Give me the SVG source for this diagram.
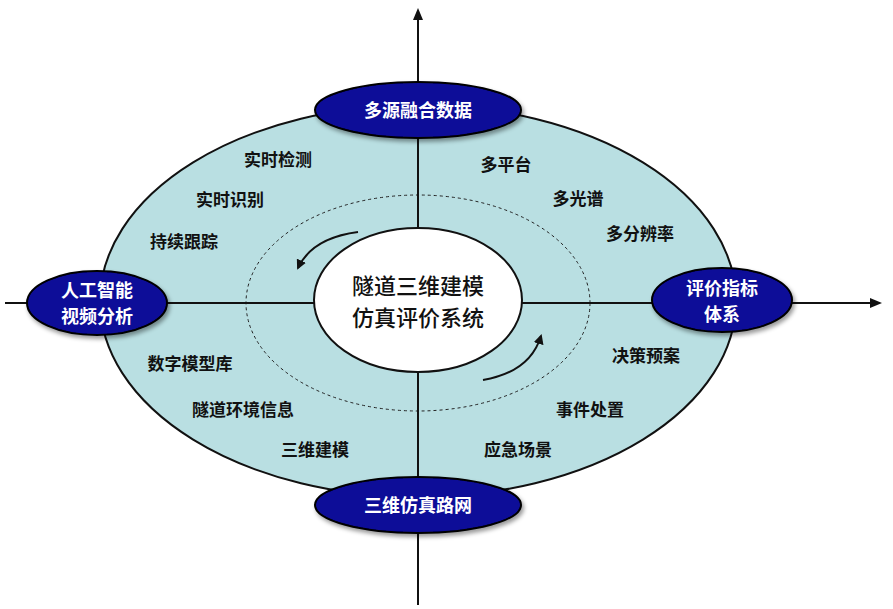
<svg xmlns="http://www.w3.org/2000/svg" width="893" height="609" viewBox="0 0 893 609">
<defs>
<style>
.node{fill:#0b0b98;stroke:#000;stroke-width:2}
.nt{fill:#fff;font-family:"Noto Sans CJK SC",sans-serif;font-size:18px;font-weight:bold;text-anchor:middle}
.lb{fill:#111;font-family:"Noto Sans CJK SC",sans-serif;font-size:17px;font-weight:bold;text-anchor:middle}
.ax{stroke:#111;stroke-width:2;fill:none}
</style>
<marker id="ah" markerWidth="10" markerHeight="10" refX="8" refY="5" orient="auto" markerUnits="userSpaceOnUse"><path d="M0,0 L10,5 L0,10 z" fill="#111"/></marker>
<marker id="ah2" markerWidth="12" markerHeight="12" refX="6" refY="6" orient="auto" markerUnits="userSpaceOnUse"><path d="M0,1 L12,6 L0,11 z" fill="#111"/></marker>
<filter id="sh" x="-20%" y="-20%" width="140%" height="160%"><feDropShadow dx="2" dy="3" stdDeviation="2" flood-opacity="0.4"/></filter>
</defs>
<rect width="893" height="609" fill="#fff"/>
<g id="base">
<ellipse cx="418" cy="301" rx="318" ry="196" fill="#b9dfe2" stroke="#111" stroke-width="2"/>
<ellipse cx="418" cy="303" rx="172" ry="108" fill="none" stroke="#222" stroke-width="1" stroke-dasharray="3,3"/>
</g>
<g id="connectors">
<line class="ax" x1="418" y1="605" x2="418" y2="14" marker-end="url(#ah2)"/>
<line class="ax" x1="5" y1="303" x2="876" y2="303" marker-end="url(#ah2)"/>
<path class="ax" d="M358,232 Q312,238 298,268" marker-end="url(#ah)"/>
<path class="ax" d="M483,380 Q530,372 541,336" marker-end="url(#ah)"/>
</g>
<g id="center">
<ellipse cx="418" cy="300" rx="104" ry="72" fill="#fff" stroke="#111" stroke-width="2"/>
<text class="lb" style="font-size:22px;font-weight:500" x="418" y="294">隧道三维建模</text>
<text class="lb" style="font-size:22px;font-weight:500" x="418" y="326">仿真评价系统</text>
</g>
<g id="n-top"><ellipse class="node" filter="url(#sh)" cx="418" cy="110" rx="103" ry="28"/><text class="nt" x="418" y="117">多源融合数据</text></g>
<g id="n-left"><ellipse class="node" filter="url(#sh)" cx="97" cy="303" rx="70" ry="32"/><text class="nt" x="97" y="297">人工智能</text><text class="nt" x="97" y="323">视频分析</text></g>
<g id="n-right"><ellipse class="node" filter="url(#sh)" cx="722" cy="300" rx="70" ry="32"/><text class="nt" x="722" y="295">评价指标</text><text class="nt" x="722" y="321">体系</text></g>
<g id="n-bottom"><ellipse class="node" filter="url(#sh)" cx="418" cy="505" rx="103" ry="28"/><text class="nt" x="418" y="512">三维仿真路网</text></g>
<g id="labels">
<text class="lb" x="278" y="166">实时检测</text>
<text class="lb" x="230" y="206">实时识别</text>
<text class="lb" x="184" y="248">持续跟踪</text>
<text class="lb" x="506" y="171">多平台</text>
<text class="lb" x="578" y="205">多光谱</text>
<text class="lb" x="640" y="240">多分辨率</text>
<text class="lb" x="190" y="370">数字模型库</text>
<text class="lb" x="243" y="416">隧道环境信息</text>
<text class="lb" x="315" y="456">三维建模</text>
<text class="lb" x="646" y="362">决策预案</text>
<text class="lb" x="590" y="416">事件处置</text>
<text class="lb" x="518" y="456">应急场景</text>
</g>
</svg>
